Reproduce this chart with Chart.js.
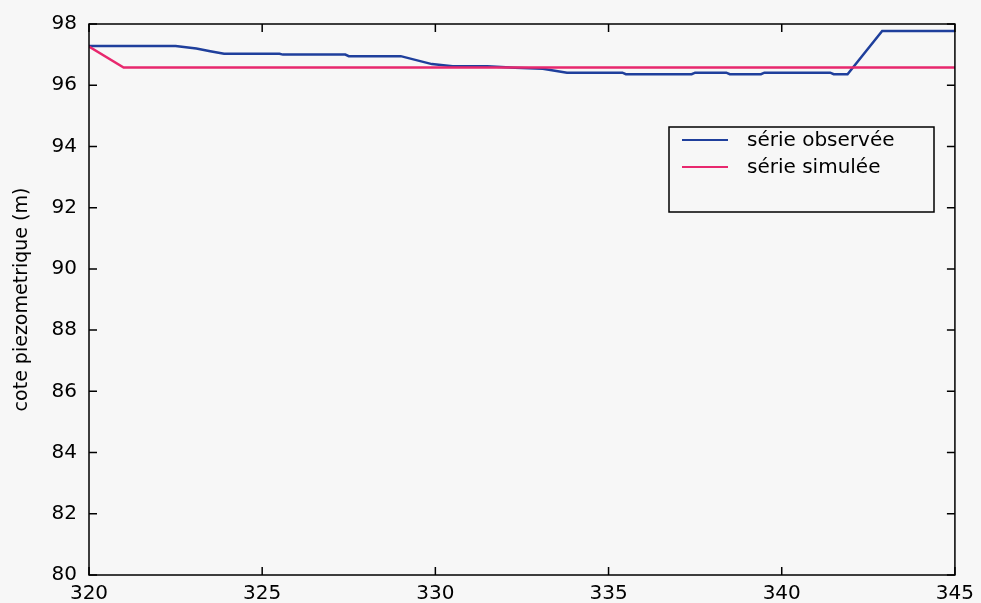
<!DOCTYPE html>
<html>
<head>
<meta charset="utf-8">
<script src="https://cdn.jsdelivr.net/npm/chart.js@4.4.0/dist/chart.umd.min.js"></script>
<style>
  html, body { margin: 0; padding: 0; background: #f7f7f7; }
  #wrap { width: 981px; height: 603px; }
</style>
</head>
<body>
<div id="wrap"><canvas id="cote-chart" width="981" height="603"></canvas></div>
<script>
// serie observee (x = pas de temps, y = cote en m)
const obsX = [320, 322.5, 323.1, 323.5, 323.9, 325.5, 325.6, 327.4, 327.5, 329.0, 329.9, 330.5, 331.5, 332.3, 333.1,
              333.8, 335.4, 335.5, 337.4, 337.5, 338.4, 338.5, 339.4, 339.5, 341.4, 341.5, 341.9, 342.9, 345];
const obsY = [97.28, 97.28, 97.2, 97.11, 97.03, 97.03, 97.0, 97.0, 96.95, 96.95, 96.69, 96.62, 96.62, 96.57, 96.54,
              96.41, 96.41, 96.36, 96.36, 96.41, 96.41, 96.36, 96.36, 96.41, 96.41, 96.36, 96.36, 97.77, 97.77];
// serie simulee
const simX = [320, 321.0, 345];
const simY = [97.26, 96.58, 96.58];

const xTicks = [320, 325, 330, 335, 340, 345];
const yTicks = [80, 82, 84, 86, 88, 90, 92, 94, 96, 98];

const toPoints = (xs, ys) => xs.map((x, i) => ({ x: x, y: ys[i] }));

// cadre + graduations vers l'interieur (style matlab)
const cadrePlugin = {
    id: 'cadre',
    afterDraw(chart) {
        const { ctx, chartArea: a, scales } = chart;
        const tl = 8;
        ctx.save();
        ctx.strokeStyle = '#000';
        ctx.lineWidth = 1.5;
        ctx.strokeRect(a.left, a.top, a.right - a.left, a.bottom - a.top);
        ctx.beginPath();
        xTicks.forEach(v => {
            const px = scales.x.getPixelForValue(v);
            ctx.moveTo(px, a.bottom); ctx.lineTo(px, a.bottom - tl);
            ctx.moveTo(px, a.top); ctx.lineTo(px, a.top + tl);
        });
        yTicks.forEach(v => {
            const py = scales.y.getPixelForValue(v);
            ctx.moveTo(a.left, py); ctx.lineTo(a.left + tl, py);
            ctx.moveTo(a.right, py); ctx.lineTo(a.right - tl, py);
        });
        ctx.stroke();

        // legende
        const bx = 669, by = 127, bw = 265, bh = 85;
        ctx.fillStyle = '#f7f7f7';
        ctx.fillRect(bx, by, bw, bh);
        ctx.strokeRect(bx, by, bw, bh);
        ctx.font = '20px "DejaVu Sans"';
        ctx.textBaseline = 'middle';
        [0, 1].forEach((di, i) => {
            const ds = chart.data.datasets[di];
            const ly = by + 13 + i * 27;
            ctx.strokeStyle = ds.borderColor;
            ctx.lineWidth = 2;
            ctx.beginPath();
            ctx.moveTo(bx + 13, ly); ctx.lineTo(bx + 59, ly);
            ctx.stroke();
            ctx.fillStyle = '#000';
            ctx.fillText(ds.label, bx + 78, ly + 1);
        });
        ctx.restore();
    }
};

new Chart(document.getElementById('cote-chart'), {
    type: 'line',
    data: {
        datasets: [{
            label: 'série observée',
            data: toPoints(obsX, obsY),
            borderColor: '#1f3f9c',
            borderWidth: 2.5,
            pointRadius: 0,
            tension: 0,
            order: 2
        }, {
            label: 'série simulée',
            data: toPoints(simX, simY),
            borderColor: '#e8286e',
            borderWidth: 2.5,
            pointRadius: 0,
            tension: 0,
            order: 1
        }]
    },
    options: {
        responsive: false,
        animation: false,
        layout: { padding: { top: 22, right: 25, left: 0, bottom: 0 } },
        plugins: {
            legend: { display: false },
            tooltip: { enabled: false }
        },
        scales: {
            x: {
                type: 'linear',
                min: 320,
                max: 345,
                afterFit: s => { s.height = 28; },
                afterBuildTicks: s => { s.ticks = xTicks.map(v => ({ value: v })); },
                grid: { display: false, drawTicks: false },
                border: { display: false },
                ticks: {
                    color: '#000',
                    padding: 7,
                    maxRotation: 0,
                    font: { family: '"DejaVu Sans"', size: 20 }
                }
            },
            y: {
                min: 80,
                max: 98,
                afterFit: s => { s.width = 89; },
                afterBuildTicks: s => { s.ticks = yTicks.map(v => ({ value: v })); },
                grid: { display: false, drawTicks: false },
                border: { display: false },
                ticks: {
                    color: '#000',
                    padding: 12,
                    font: { family: '"DejaVu Sans"', size: 20 }
                },
                title: {
                    display: true,
                    text: 'cote piezometrique (m)',
                    color: '#000',
                    padding: { top: 11, bottom: 0 },
                    font: { family: '"DejaVu Sans"', size: 19 }
                }
            }
        }
    },
    plugins: [cadrePlugin]
});
</script>
</body>
</html>
